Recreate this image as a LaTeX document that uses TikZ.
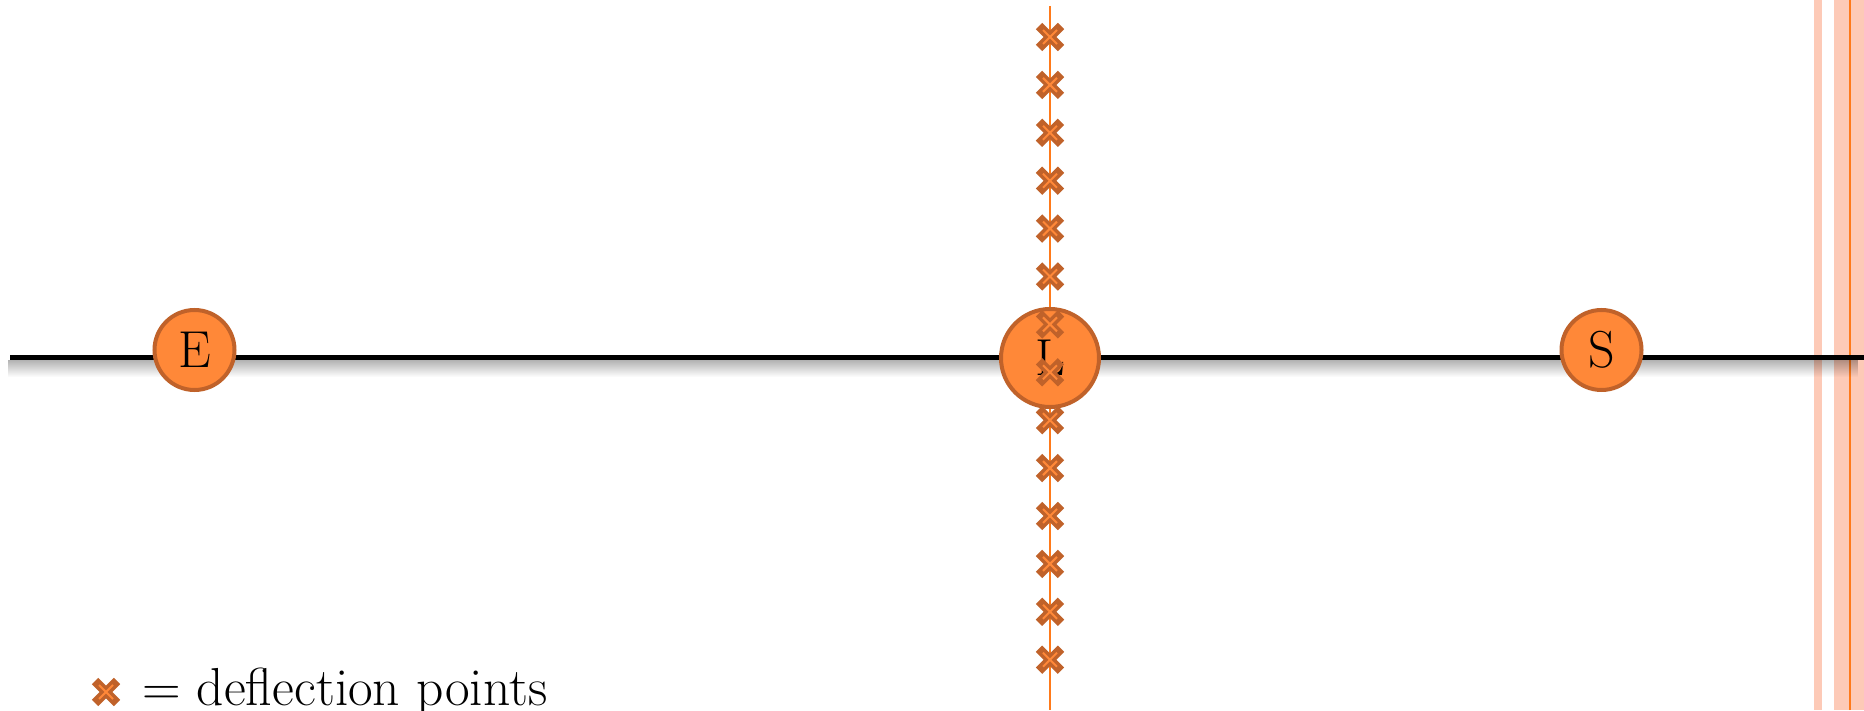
\documentclass[tikz,border=0pt]{standalone}
\usepackage{tikz}
\usetikzlibrary{positioning,fadings}
\definecolor{lensOrange}{HTML}{FF8838}
\definecolor{lensRim}{HTML}{C0622A}
\definecolor{rayOrange}{HTML}{FF7A1A}
\definecolor{planePeach}{HTML}{FDCAB7}
\tikzset{
  body/.style={circle, draw=lensRim, line width=4pt, fill=lensOrange, inner sep=0pt, minimum size=80pt, font=\fontsize{52}{62}\selectfont},
  bigbody/.style={body, minimum size=98pt},
  axis/.style={line width=5pt, draw=black},
  ray/.style={line width=2.5pt, draw=rayOrange},
  defl/.pic={
    \draw[line width=9pt, lensRim] (-11,-11) -- (11,11) (-11,11) -- (11,-11);
    \draw[line width=2pt, lensOrange] (-7,-7) -- (7,7) (-7,7) -- (7,-7);
  }
}
\begin{document}
\begin{tikzpicture}[x=1pt, y=1pt]
\useasboundingbox (0,0) rectangle (1864,710);
% source planes at the right edge
\fill[planePeach] (1814,0) rectangle (1822,710);
\fill[planePeach] (1834,0) rectangle (1864,710);
\draw[ray] (1850,0) -- (1850,710);
% optical axis with its shadow
\coordinate (axL) at (10,352);
\coordinate (axR) at (1864,352);
\fill[black, opacity=0.3, path fading=south] (10,350) rectangle (1864,333);
\draw[axis] (axL) -- (axR);
% lens plane
\coordinate (rayT) at (1050,704);
\coordinate (rayB) at (1050,0);
\draw[ray] (rayT) -- (rayB);
\node[body] (E) at (194.5,360) {E};
\node[bigbody] (L) at (1050,352) {L};
\node[body] (S) at (1601.5,360) {S};
% deflection points
\foreach \i in {0,...,13}
  \pic at (1050,{673-47.9*\i}) {defl};
% key
\coordinate (key) at (106,18);
\pic at (key) {defl};
\node[anchor=base west, inner sep=0pt, font=\fontsize{53.5}{64}\selectfont] (keytext) at (142,5) {= deflection points};
\end{tikzpicture}
\end{document}
